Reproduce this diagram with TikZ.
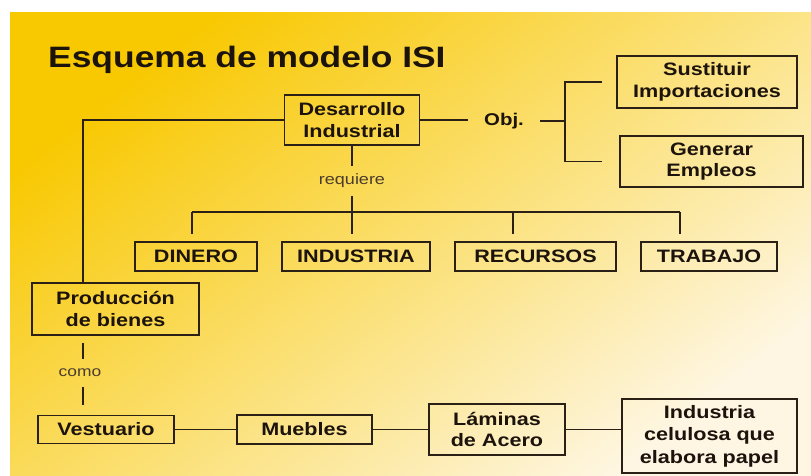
\documentclass[tikz,border=0pt]{standalone}
\usepackage{fontspec}
\setmainfont{Liberation Sans}[FakeStretch=1.2]
\definecolor{linea}{HTML}{2A2016}
\definecolor{tinta}{HTML}{1C140C}
\definecolor{gris}{HTML}{4A3C2E}
\definecolor{fondoA}{HTML}{F8C800}
\definecolor{fondoB}{HTML}{FBE07E}
\definecolor{fondoC}{HTML}{FEF6E2}
\tikzset{
  caja/.style={draw=linea, line width=1.9pt, text=tinta, align=center, inner sep=0pt,
    font=\bfseries\fontsize{18}{21.5}\selectfont},
  etiqueta/.style={text=gris, inner xsep=2pt, inner ysep=8pt, font=\fontsize{15}{18}\selectfont},
  conector/.style={draw=linea, line width=1.9pt},
}
\begin{document}
\begin{tikzpicture}[x=1pt,y=-1pt]
        \useasboundingbox (0,0) rectangle (811,476);
        \fill[white] (0,0) rectangle (811,476);
        \shade[top color=fondoA, middle color=fondoB, bottom color=fondoC, shading angle=38] (10,13) rectangle (811,476);
        \node[anchor=base west, inner sep=0pt, text=tinta, font=\bfseries\fontsize{29.5}{34}\selectfont] (titulo) at (48,68) {Esquema de modelo ISI};
        % caja central y objetivos
        \node[caja, minimum width=135pt, minimum height=50pt] (desarrollo) at (352,120) {Desarrollo\\Industrial};
        \node[caja, minimum width=180pt, minimum height=52pt] (sustituir) at (707,82) {Sustituir\\Importaciones};
        \node[caja, minimum width=183pt, minimum height=51pt] (generar) at (711.5,161.5) {Generar\\Empleos};
        \node[text=tinta, inner xsep=16pt, font=\bfseries\fontsize{17}{20}\selectfont] (obj) at (504,121) {Obj.};
        \coordinate (llave) at (565,121);
        \draw[conector] (desarrollo.east) -- (desarrollo.east -| obj.west);
        \draw[conector] (obj.east |- llave) -- (llave);
        \draw[conector] ([xshift=-14pt]sustituir.west) -| (llave) |- ([xshift=-17pt]generar.west);
        % lo que requiere
        \node[etiqueta] (requiere) at (352,181) {requiere};
        \foreach \n/\x/\w/\texto in {dinero/196/122/DINERO, industria/356/148/INDUSTRIA,
                                    recursos/535.5/161/RECURSOS, trabajo/709/136/TRABAJO}
            \node[caja, minimum width=\w pt, minimum height=29pt] (\n) at (\x,256.5) {\texto};
        \foreach \n/\dx in {dinero/-4, industria/-4, recursos/-22.5, trabajo/-29}
            \draw[conector] ([shift={(\dx,-7)}]\n.north) -- ++(0,-22) coordinate (tope-\n);
        \draw[conector] (tope-dinero) -- (tope-trabajo);
        \draw[conector] (desarrollo.south) -- (requiere.north);
        \draw[conector] (requiere.south) -- (tope-industria);
        % produccion de bienes
        \node[caja, minimum width=167pt, minimum height=52pt] (produccion) at (115.5,309) {Producción\\de bienes};
        \draw[conector] (desarrollo.west) -| ([xshift=52pt]produccion.north west);
        \node[etiqueta, inner ysep=9.5pt, font=\fontsize{14.5}{17}\selectfont] (como) at (80,373) {como};
        \node[caja, minimum width=136pt, minimum height=28pt] (vestuario) at (106,429.5) {Vestuario};
        \node[caja, minimum width=135pt, minimum height=29pt] (muebles) at (304.5,429.5) {Muebles};
        \node[caja, minimum width=136pt, minimum height=51pt] (laminas) at (497,429.5) {Láminas\\de Acero};
        \node[caja, minimum width=175pt, minimum height=74pt, font=\bfseries\fontsize{18}{22.5}\selectfont] (celulosa) at (709.5,436) {Industria\\celulosa que\\elabora papel};
        \draw[conector, shorten <=7pt] ([xshift=52pt]produccion.south west) -- ([xshift=52pt]produccion.south west |- como.north);
        \draw[conector, shorten >=10pt] ([xshift=46pt]vestuario.north west |- como.south) -- ([xshift=46pt]vestuario.north west);
        \draw[conector] (vestuario) -- (muebles);
        \draw[conector] (muebles) -- (laminas);
        \draw[conector] (laminas.east) -- (laminas.east -| celulosa.west);
\end{tikzpicture}
\end{document}
